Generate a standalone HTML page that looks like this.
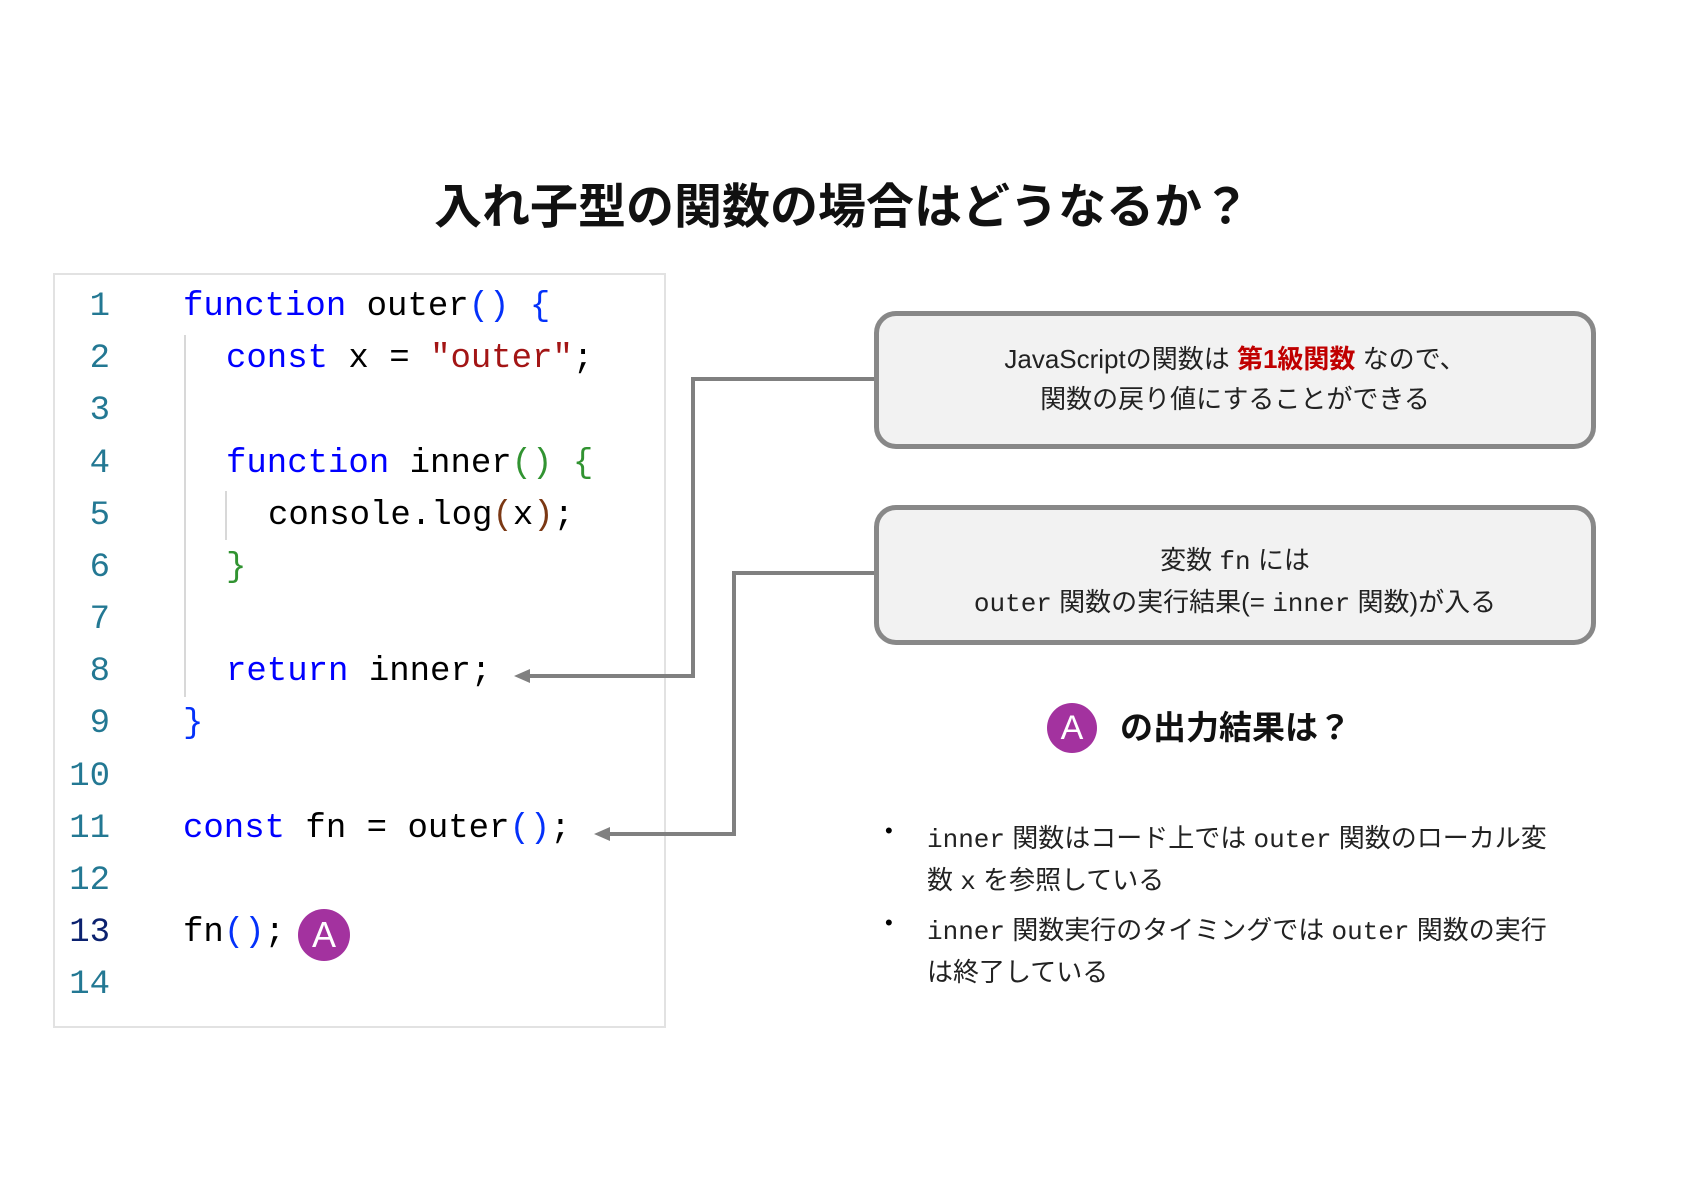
<!DOCTYPE html>
<html><head><meta charset="utf-8"><style>
body{margin:0;width:1684px;height:1190px;background:#fff;position:relative;overflow:hidden;font-family:"Liberation Sans","Noto Sans CJK JP",sans-serif;}
.abs{position:absolute;}
.title{left:0;width:1684px;top:176px;text-align:center;font-size:48px;font-weight:bold;color:#111;line-height:64px;}
.code{left:53px;top:273px;width:613px;height:755px;border:2px solid #e2e2e2;box-sizing:border-box;}
.ln{position:absolute;left:60px;width:50px;text-align:right;font-family:"Liberation Mono",monospace;font-size:34px;color:#237893;line-height:52px;}
.cl{position:absolute;left:183px;font-family:"Liberation Mono",monospace;font-size:34px;color:#000;line-height:52px;white-space:pre;}
.k{color:#0000ff}.s{color:#a31515}.b{color:#0431fa}.g{color:#319331}.br{color:#7b3814}
.box{border:5px solid #888;border-radius:22px;background:#f2f2f2;box-sizing:border-box;text-align:center;font-size:26px;color:#222;line-height:40px;}
.m{font-family:"Liberation Mono",monospace;}
.circ{border-radius:50%;background:#a3329f;color:#fff;text-align:center;font-family:"Liberation Sans",sans-serif;}
.bul{left:885px;font-size:26px;color:#222;line-height:40px;}
</style></head><body>
<div class="abs title">入れ子型の関数の場合はどうなるか？</div>
<div class="abs code"></div>
<div class="abs" style="left:184px;top:335px;width:2px;height:362px;background:#d8d8d8"></div>
<div class="abs" style="left:225px;top:491px;width:2px;height:49px;background:#d8d8d8"></div>
<div class="ln" style="top:281px">1</div>
<div class="ln" style="top:333px">2</div>
<div class="ln" style="top:385px">3</div>
<div class="ln" style="top:438px">4</div>
<div class="ln" style="top:490px">5</div>
<div class="ln" style="top:542px">6</div>
<div class="ln" style="top:594px">7</div>
<div class="ln" style="top:646px">8</div>
<div class="ln" style="top:698px">9</div>
<div class="ln" style="top:751px">10</div>
<div class="ln" style="top:803px">11</div>
<div class="ln" style="top:855px">12</div>
<div class="ln" style="top:907px;color:#0b216f">13</div>
<div class="ln" style="top:959px">14</div>
<div class="cl" style="top:281px"><span class="k">function</span> outer<span class="b">()</span> <span class="b">{</span></div>
<div class="cl" style="top:333px;left:226px"><span class="k">const</span> x = <span class="s">"outer"</span>;</div>
<div class="cl" style="top:438px;left:226px"><span class="k">function</span> inner<span class="g">()</span> <span class="g">{</span></div>
<div class="cl" style="top:490px;left:268px">console.log<span class="br">(</span>x<span class="br">)</span>;</div>
<div class="cl" style="top:542px;left:226px"><span class="g">}</span></div>
<div class="cl" style="top:646px;left:226px"><span class="k">return</span> inner;</div>
<div class="cl" style="top:698px"><span class="b">}</span></div>
<div class="cl" style="top:803px"><span class="k">const</span> fn = outer<span class="b">()</span>;</div>
<div class="cl" style="top:907px">fn<span class="b">()</span>;</div>
<div class="abs circ" style="left:298px;top:909px;width:52px;height:52px;line-height:52px;font-size:36px">A</div>

<svg class="abs" style="left:0;top:0" width="1684" height="1190">
<g fill="none" stroke="#808080" stroke-width="4">
<polyline points="876,379 693,379 693,676 526,676"/>
<polyline points="876,573 734,573 734,834 606,834"/>
</g>
<polygon points="514,676 530,669 530,683" fill="#808080"/>
<polygon points="594,834 610,827 610,841" fill="#808080"/>
</svg>

<div class="abs box" style="left:874px;top:311px;width:722px;height:138px;padding-top:23px">JavaScriptの関数は <b style="color:#c00000">第1級関数</b> なので、<br>関数の戻り値にすることができる</div>
<div class="abs box" style="left:874px;top:505px;width:722px;height:140px;padding-top:30px">変数 <span class="m">fn</span> には<br><span class="m">outer</span> 関数の実行結果(= <span class="m">inner</span> 関数)が入る</div>

<div class="abs circ" style="left:1047px;top:703px;width:50px;height:50px;line-height:50px;font-size:34px">A</div>
<div class="abs" style="left:1120px;top:706px;font-size:33px;font-weight:bold;color:#111;line-height:44px">の出力結果は？</div>

<div class="abs" style="left:885px;top:818px;font-size:22px">•</div>
<div class="abs" style="left:885px;top:910px;font-size:22px">•</div>
<div class="abs bul" style="left:927px;top:818px;width:660px"><span class="m">inner</span> 関数はコード上では <span class="m">outer</span> 関数のローカル変<br>数 <span class="m">x</span> を参照している</div>
<div class="abs bul" style="left:927px;top:910px;width:660px"><span class="m">inner</span> 関数実行のタイミングでは <span class="m">outer</span> 関数の実行<br>は終了している</div>
</body></html>
